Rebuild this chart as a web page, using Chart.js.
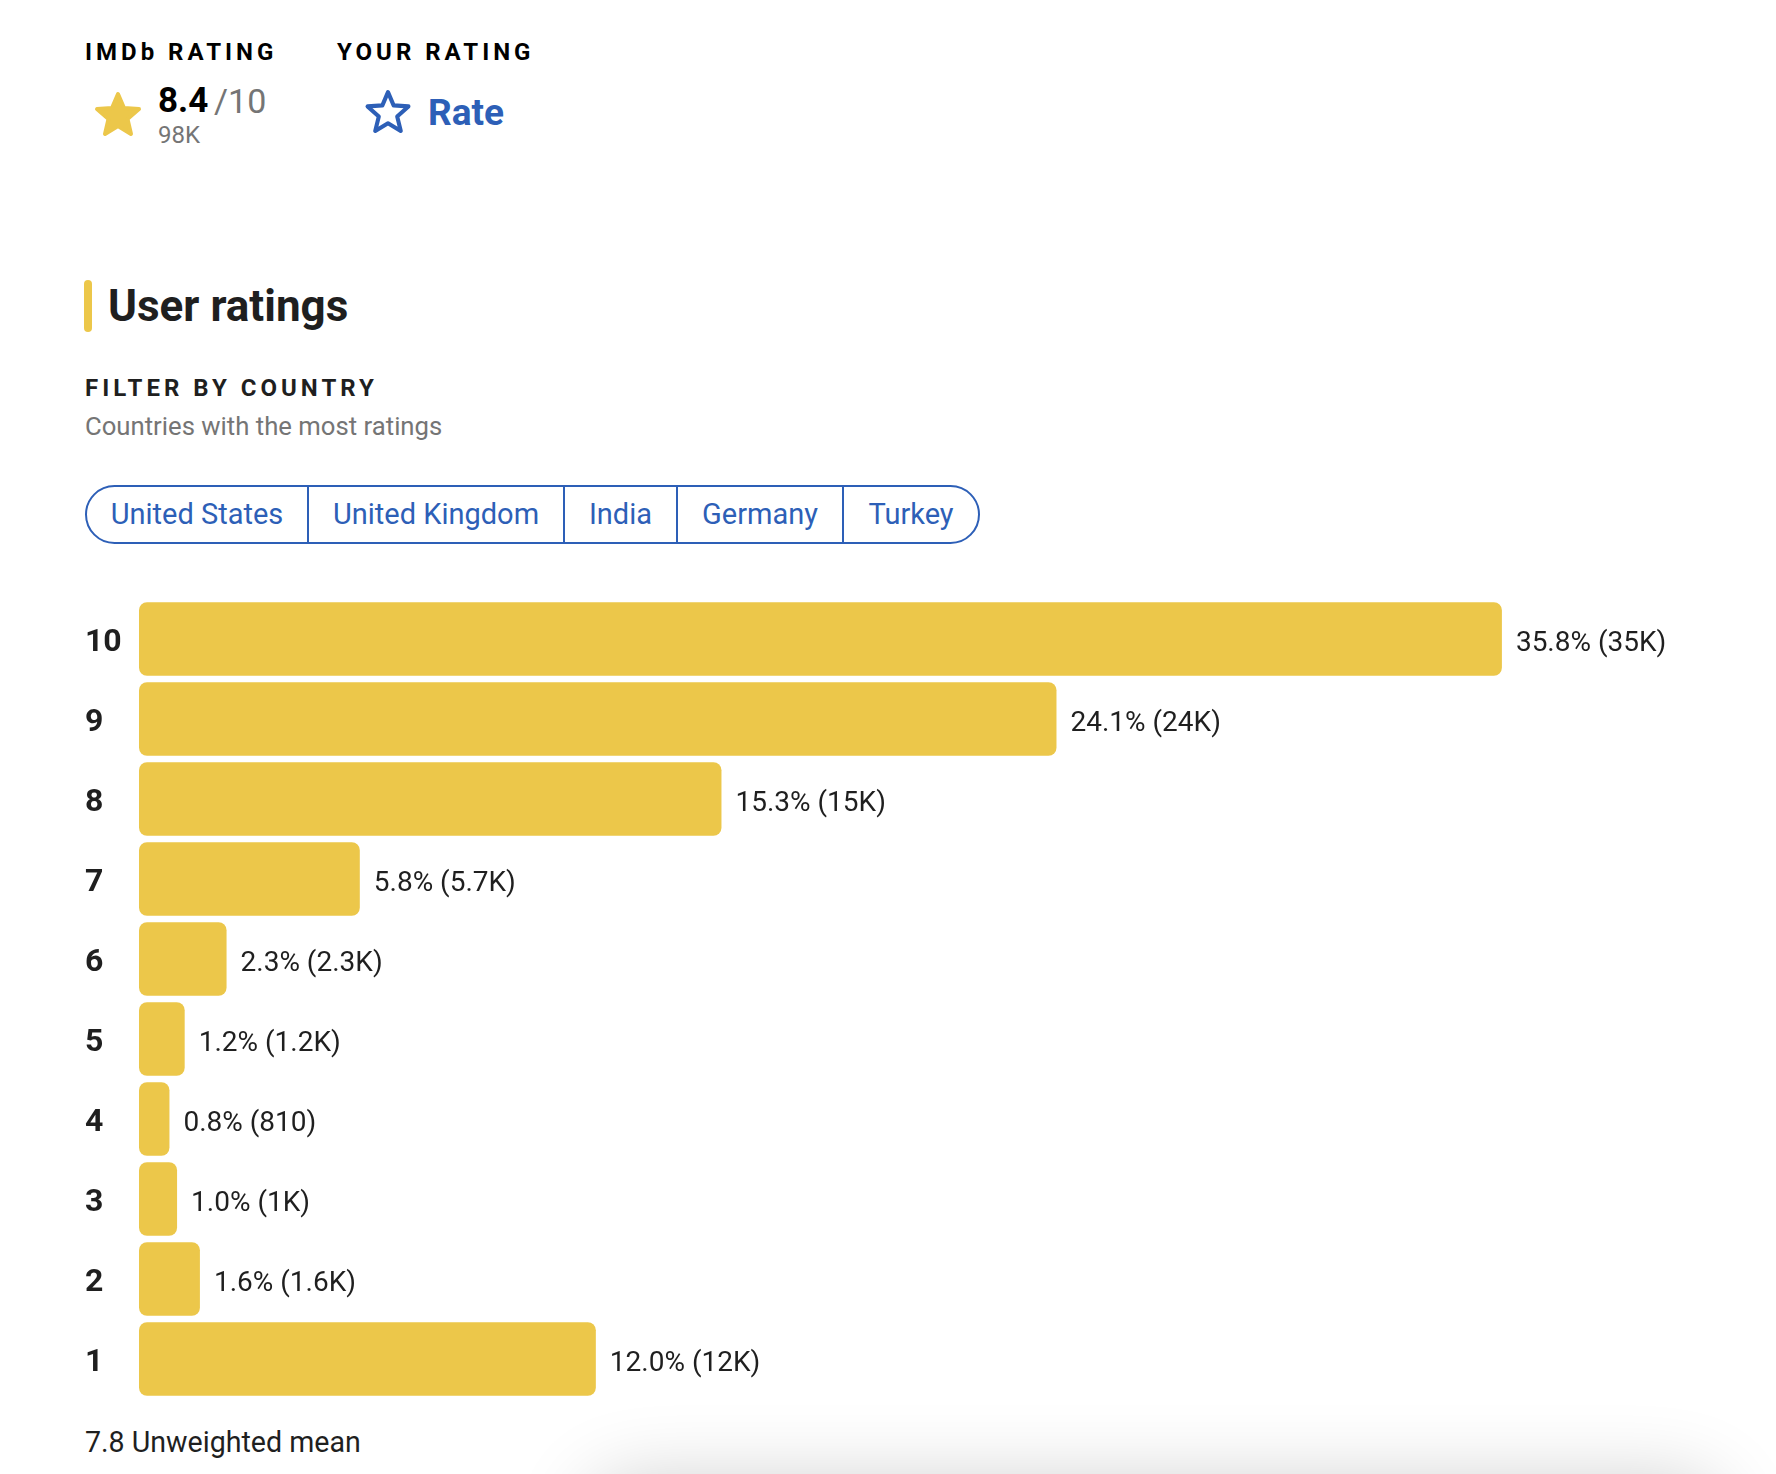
<!DOCTYPE html>
<html>
<head>
<meta charset="utf-8">
<title>User ratings</title>
<script src="https://cdn.jsdelivr.net/npm/chart.js@4/dist/chart.umd.min.js"></script>
<style>
    html, body {
        margin: 0;
        padding: 0;
        background: #ffffff;
    }
    body {
        width: 1776px;
        height: 1474px;
        position: relative;
        overflow: hidden;
        font-family: 'Roboto', 'Noto Sans', sans-serif;
        color: #1f1f1f;
    }
    .abs {
        position: absolute;
        line-height: 1;
        white-space: nowrap;
    }
    .caps {
        font-size: 24px;
        font-weight: 700;
        letter-spacing: 4px;
        color: #000;
    }
    .blue {
        color: #2d5fb7;
    }
    .grey {
        color: #757575;
    }
    #countryTabs {
        left: 85px;
        top: 485px;
        height: 59px;
        box-sizing: border-box;
        border: 2px solid #2d5fb7;
        border-radius: 30px;
        display: flex;
        overflow: hidden;
    }
    #countryTabs div {
        box-sizing: border-box;
        height: 55px;
        line-height: 55px;
        text-align: center;
        font-size: 29px;
        color: #2d5fb7;
        border-left: 2px solid #2d5fb7;
    }
    #countryTabs div:first-child {
        border-left: none;
    }
    #chartBox {
        position: absolute;
        left: 85px;
        top: 599px;
    }
    /* sombra de un panel que queda por debajo de la captura */
    #shade {
        position: absolute;
        left: 590px;
        top: 1482px;
        width: 1130px;
        height: 120px;
        border-radius: 40px;
        background: #fff;
        box-shadow: 0 0 80px rgba(0, 0, 0, 0.2);
    }
</style>
</head>
<body>

<!-- Cabecera: nota IMDb y "tu nota" -->
<div class="abs caps" style="left:85px; top:40px;">IMDb RATING</div>
<div class="abs caps" style="left:337px; top:40px;">YOUR RATING</div>

<svg class="abs" style="left:94px; top:91px;" width="48" height="46" viewBox="0 0 48 46">
    <polygon points="24,3 30,17 45,18 33.5,28 37,43 24,35 11,43 14.5,28 3,18 18,17"
             fill="#ecc74a" stroke="#ecc74a" stroke-width="4" stroke-linejoin="round"/>
</svg>
<div class="abs" style="left:158px; top:83px; font-size:35px; font-weight:700; color:#000;">8.4</div>
<div class="abs grey" style="left:214px; top:84px; font-size:34px;">/10</div>
<div class="abs grey" style="left:158px; top:123px; font-size:24px;">98K</div>

<svg class="abs" style="left:363px; top:88px;" width="50" height="47" viewBox="0 0 48 46">
    <polygon points="24,4 29.5,17 44,18 33,28 36.5,42 24,34.5 11.5,42 15,28 4,18 18.5,17"
             fill="none" stroke="#2d5fb7" stroke-width="4" stroke-linejoin="round"/>
</svg>
<div class="abs blue" style="left:428px; top:94px; font-size:37px; font-weight:700;">Rate</div>

<!-- Título de la sección -->
<div class="abs" style="left:84px; top:280px; width:8px; height:52px; border-radius:4px; background:#ecc74a;"></div>
<div class="abs" style="left:108px; top:284px; font-size:44px; font-weight:700; color:#1f1f1f;">User ratings</div>

<div class="abs caps" style="left:85px; top:376px; color:#1f1f1f;">FILTER BY COUNTRY</div>
<div class="abs grey" style="left:85px; top:414px; font-size:25.7px;">Countries with the most ratings</div>

<div class="abs" id="countryTabs"></div>

<!-- Gráfica -->
<div id="chartBox">
    <canvas id="ratingsChart" width="1691" height="800"></canvas>
</div>

<div class="abs" style="left:85px; top:1428px; font-size:28.6px; color:#1f1f1f;">7.8 Unweighted mean</div>
<div id="shade"></div>

<script>
// Datos de la gráfica
const ratingLabels = ['10', '9', '8', '7', '6', '5', '4', '3', '2', '1'];
const sharePercent = [35.8, 24.1, 15.3, 5.8, 2.3, 1.2, 0.8, 1.0, 1.6, 12.0];
const voteCounts = ['35K', '24K', '15K', '5.7K', '2.3K', '1.2K', '810', '1K', '1.6K', '12K'];

// Pestañas de países
const countries = ['United States', 'United Kingdom', 'India', 'Germany', 'Turkey'];
const tabWidths = [220, 256, 113, 166, 136];

const tabs = document.getElementById('countryTabs');
countries.forEach((name, i) => {
    const d = document.createElement('div');
    d.textContent = name;
    d.style.width = tabWidths[i] + 'px';
    tabs.appendChild(d);
});

// Etiquetas al final de cada barra
const valueLabels = {
    id: 'valueLabels',
    afterDatasetsDraw(chart) {
        const c = chart.ctx;
        const meta = chart.getDatasetMeta(0);
        c.save();
        c.font = '28px Roboto';
        c.fillStyle = '#1f1f1f';
        c.textAlign = 'left';
        c.textBaseline = 'middle';
        meta.data.forEach((bar, i) => {
            const txt = sharePercent[i].toFixed(1) + '% (' + voteCounts[i] + ')';
            c.fillText(txt, bar.x + 14, bar.y + 5);
        });
        c.restore();
    }
};

const ctx = document.getElementById('ratingsChart');

new Chart(ctx.getContext('2d'), {
    type: 'bar',
    data: {
        labels: ratingLabels,
        datasets: [{
            data: sharePercent,
            backgroundColor: '#ecc74a',
            borderRadius: 8,
            borderSkipped: false,
            barPercentage: 0.92,
            categoryPercentage: 1
        }]
    },
    options: {
        indexAxis: 'y',
        responsive: false,
        animation: false,
        layout: { padding: 0 },
        plugins: {
            legend: { display: false },
            tooltip: { enabled: false }
        },
        scales: {
            x: {
                display: false,
                min: 0,
                max: 43
            },
            y: {
                grid: { display: false, drawTicks: false },
                border: { display: false },
                ticks: {
                    crossAlign: 'far',
                    padding: 0,
                    labelOffset: 4,
                    color: '#1f1f1f',
                    font: { family: 'Roboto', size: 32, weight: 'bold' }
                },
                // ancho fijo y sin margen extra arriba/abajo
                afterFit: (scale) => {
                    scale.width = 54;
                    scale.paddingTop = 0;
                    scale.paddingBottom = 0;
                }
            }
        }
    },
    plugins: [valueLabels]
});
</script>
</body>
</html>
